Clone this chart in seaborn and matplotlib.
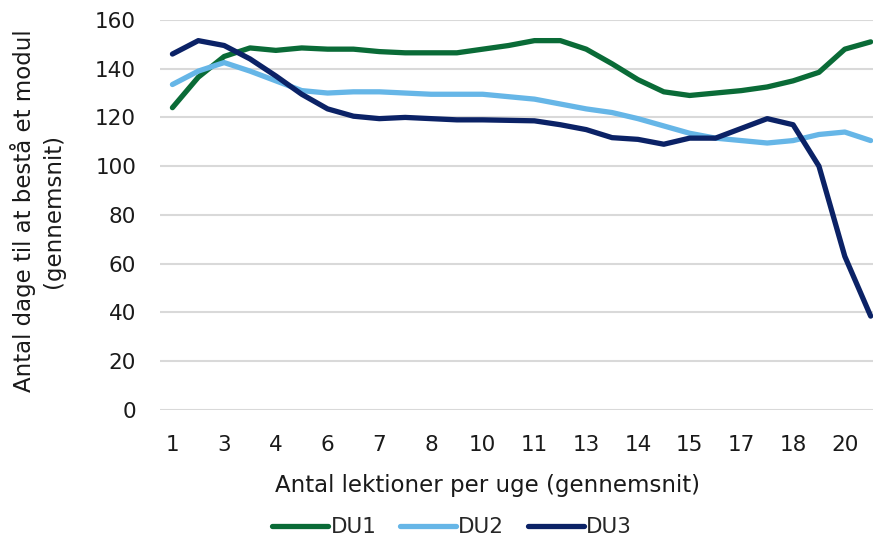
import pandas as pd
import numpy as np
import seaborn as sns
import matplotlib.pyplot as plt

# data (28 categories, every second one labelled)
x_idx = list(range(28))
tick_labels = ['1', '3', '4', '6', '7', '8', '10', '11', '13', '14', '15', '17', '18', '20']

du1 = [124, 136.5, 145, 148.5, 147.5, 148.5, 148, 148, 147, 146.5, 146.5, 146.5, 148, 149.5,
       151.5, 151.5, 148, 142, 135.5, 130.5, 129, 130, 131, 132.5, 135, 138.5, 148, 151]
du2 = [133.5, 139, 142.5, 139, 135, 131, 130, 130.5, 130.5, 130, 129.5, 129.5, 129.5, 128.5,
       127.5, 125.5, 123.5, 122, 119.5, 116.5, 113.5, 111.5, 110.5, 109.5, 110.5, 113, 114, 110.5]
du3 = [146, 151.5, 149.5, 144, 137, 129.5, 123.5, 120.5, 119.5, 120, 119.5, 119, 119, 118.8,
       118.6, 117, 115, 111.7, 111, 109, 111.5, 111.5, 115.5, 119.5, 117, 100, 63, 38.5]

series_names = ['DU1', 'DU2', 'DU3']
colors = ['#0A6B37', '#66B6E7', '#0B2266']

df = pd.DataFrame({
    'x': x_idx * 3,
    'y': du1 + du2 + du3,
    'serie': [s for s in series_names for _ in x_idx],
})

sns.set_style('white')
plt.rcParams['font.family'] = ['DejaVu Sans']

fig = plt.figure(figsize=(8.73, 5.38), dpi=100)
ax = fig.add_axes([0.183, 0.238, 0.817, 0.725])

sns.lineplot(data=df, x='x', y='y', hue='serie', palette=colors, linewidth=3.8,
             ax=ax, legend=True, clip_on=False)

ax.set_ylim(0, 160)
ax.set_xlim(-0.49, 27.09)
ax.set_yticks(np.arange(0, 161, 20))
ax.set_xticks(x_idx[::2])
ax.set_xticklabels(tick_labels)
ax.tick_params(axis='both', length=0, labelsize=15.5, colors='#1a1a1a')
ax.tick_params(axis='x', pad=18)
ax.tick_params(axis='y', pad=17)

ax.grid(axis='y', color='#D9D9D9', linewidth=1.5)
ax.set_axisbelow(True)
for s in ax.spines.values():
    s.set_visible(False)

ax.set_xlabel('Antal lektioner per uge (gennemsnit)', fontsize=16.5, color='#1a1a1a')
ax.xaxis.set_label_coords(0.46, -0.163)
ax.set_ylabel('Antal dage til at bestå et modul\n(gennemsnit)', fontsize=16.5,
              color='#1a1a1a', linespacing=1.35)
ax.yaxis.set_label_coords(-0.133, 0.51)

ax.legend(title=None, loc='center', bbox_to_anchor=(0.518, 0.02), bbox_transform=fig.transFigure,
          ncol=3, frameon=False, fontsize=15.5, handlelength=2.6, handletextpad=0.1,
          columnspacing=1.1)

fig.savefig('out.png', dpi=100)
